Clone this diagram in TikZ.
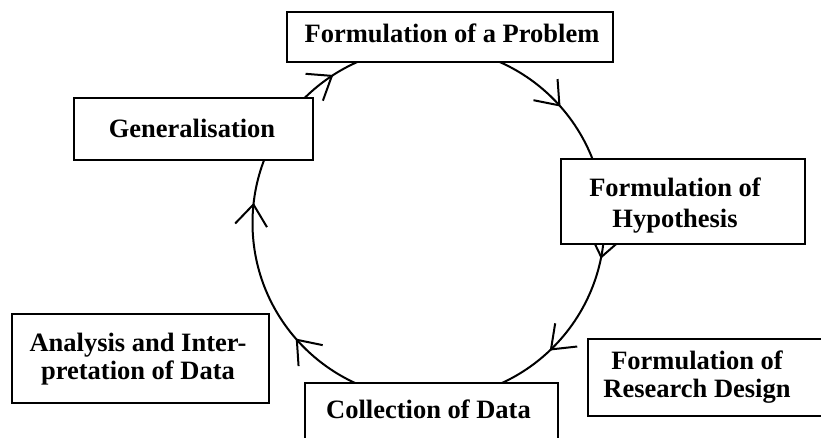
\documentclass[tikz,border=0pt]{standalone}
\usepackage{fontspec}
\setmainfont{Liberation Serif}
\usetikzlibrary{arrows.meta,decorations.markings}
\begin{document}
\begin{tikzpicture}[x=1pt,y=1pt,
  stagebox/.style={draw=black, line width=2.6pt, fill=white, rectangle, inner sep=0pt},
  stagetext/.style={font=\fontsize{26.5}{29}\selectfont\bfseries, align=center, inner sep=0pt},
  cycleline/.style={line width=2pt},
  flowtip/.tip={Straight Barb[length=21pt,width=32pt,line width=2pt]}
]
\useasboundingbox (0,0) rectangle (821,437);
\clip (0,0) rectangle (821,437);

% the research cycle, running clockwise
\coordinate (cyc) at (428.5,214);
\draw[cycleline, postaction={decorate}, decoration={markings,
    mark=at position 0.115 with {\arrowreversed{flowtip}},
    mark=at position 0.341 with {\arrowreversed{flowtip}},
    mark=at position 0.4817 with {\arrowreversed{flowtip}},
    mark=at position 0.614 with {\arrowreversed{flowtip}},
    mark=at position 0.871 with {\arrowreversed{flowtip}},
    mark=at position 0.9675 with {\arrowreversed{flowtip}}}]
  (cyc) circle[radius=176];

% stage frames
\node[stagebox, minimum width=326pt, minimum height=50pt] (prob) at (450,400) {};
\node[stagebox, minimum width=239pt, minimum height=62pt] (gen)  at (193.5,308) {};
\node[stagebox, minimum width=244pt, minimum height=85pt] (hyp)  at (683,235.5) {};
\node[stagebox, minimum width=257pt, minimum height=89pt] (ana)  at (140.5,78.5) {};
\node[stagebox, minimum width=253pt, minimum height=84pt] (col)  at (431.5,12) {};
\node[stagebox, minimum width=262pt, minimum height=77pt] (res)  at (719,59.5) {};

% stage captions
\node[stagetext, anchor=base] (prob-t) at (452,394) {Formulation of a Problem};
\node[stagetext, anchor=base] (gen-t)  at (192,299.7) {Generalisation};
\node[stagetext, font=\fontsize{26.5}{30.5}\selectfont\bfseries] (hyp-t) at (675,231.5) {Formulation of\\Hypothesis};
\node[stagetext, font=\fontsize{26.5}{28}\selectfont\bfseries] (ana-t) at (138,78.3) {Analysis and Inter-\\pretation of Data};
\node[stagetext, anchor=base] (col-t)  at (428.5,19) {Collection of Data};
\node[stagetext, font=\fontsize{26.5}{28}\selectfont\bfseries] (res-t) at (697,60.3) {Formulation of\\Research Design};
\end{tikzpicture}
\end{document}
